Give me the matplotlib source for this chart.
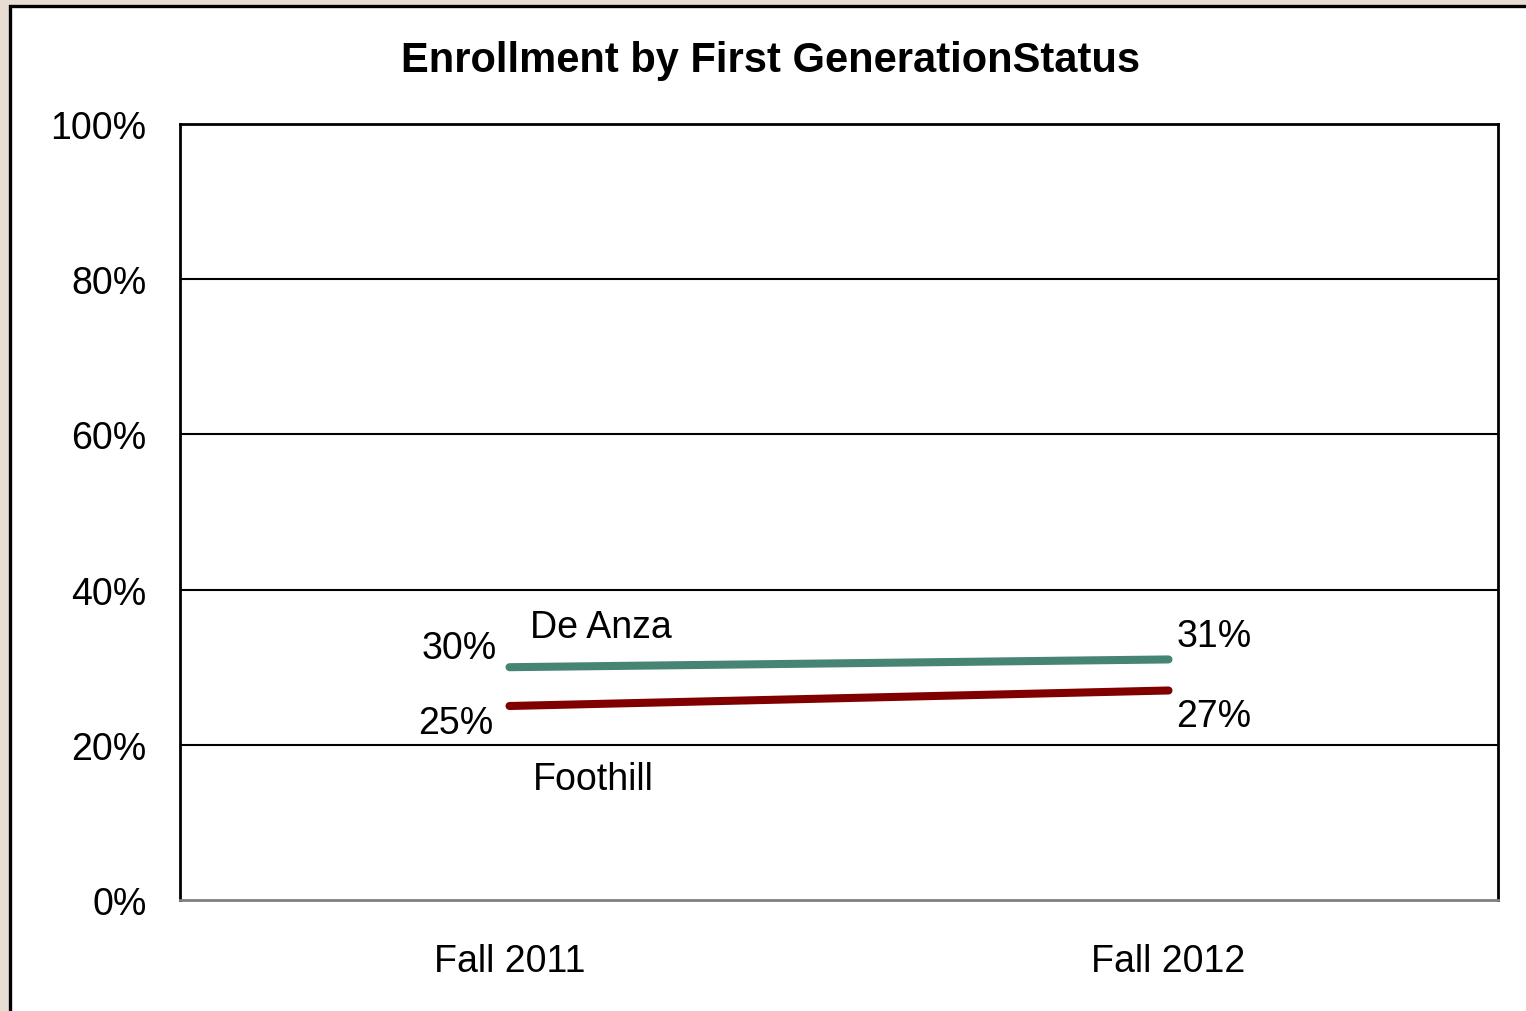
import numpy as np
import matplotlib.pyplot as plt
from matplotlib.patches import Rectangle

# chart data
terms = ["Fall 2011", "Fall 2012"]
de_anza = [0.30, 0.31]
foothill = [0.25, 0.27]
yticks = [0, 0.2, 0.4, 0.6, 0.8, 1.0]
ytick_labels = ["0%", "20%", "40%", "60%", "80%", "100%"]

plt.rcParams['font.family'] = ['Liberation Sans', 'DejaVu Sans']

fig = plt.figure(figsize=(15.26, 10.12), dpi=100)
fig.patch.set_facecolor('#e8ddd2')

# white panel with dark frame
panel = Rectangle((9.5 / 1526, -0.02), 1.05, 1 - 6.5 / 1012 + 0.02,
                  transform=fig.transFigure, facecolor='white',
                  edgecolor='black', linewidth=2.4, zorder=-5)
fig.patches.append(panel)

ax = fig.add_axes([180 / 1526, 1 - 901 / 1012, 1318 / 1526, 776 / 1012])
ax.set_zorder(2)
ax.set_facecolor('white')

x = np.arange(len(terms))
ax.plot(x, de_anza, color='#468474', linewidth=5.8, solid_capstyle='round', zorder=3)
ax.plot(x, foothill, color='#800000', linewidth=5.8, solid_capstyle='round', zorder=3)

ax.set_xlim(-0.5, 1.5)
ax.set_ylim(0, 1)
ax.set_yticks(yticks)
ax.set_yticklabels(ytick_labels)
ax.set_xticks(x)
ax.set_xticklabels(terms)
ax.tick_params(axis='both', length=0, labelsize=27)
ax.tick_params(axis='y', pad=24)
ax.tick_params(axis='x', pad=31)

for yv in yticks[1:-1]:
    ax.axhline(yv, color='black', linewidth=1.5, zorder=1)

for side in ['left', 'top', 'right']:
    ax.spines[side].set_color('black')
    ax.spines[side].set_linewidth(2)
ax.spines['bottom'].set_color('#808080')
ax.spines['bottom'].set_linewidth(2)

def label(txt, xv, yv, dx, dy, ha):
    ax.annotate(txt, (xv, yv), xytext=(dx, dy), textcoords='offset pixels',
                ha=ha, va='center', fontsize=27)

label("{:.0%}".format(de_anza[0]), x[0], de_anza[0], -13, 19, 'right')
label("De Anza", x[0], de_anza[0], 20, 40, 'left')
label("{:.0%}".format(de_anza[1]), x[1], de_anza[1], 8, 23, 'left')
label("{:.0%}".format(foothill[1]), x[1], foothill[1], 8, -26, 'left')
label("{:.0%}".format(foothill[0]), x[0], foothill[0], -16, -17, 'right')
label("Foothill", x[0], foothill[0], 23, -73, 'left')

fig.text(771 / 1526, 1 - 61 / 1012, "Enrollment by First GenerationStatus",
         ha='center', va='center', fontsize=30, fontweight='bold')

fig.savefig("out.png", dpi=100, facecolor=fig.get_facecolor())
